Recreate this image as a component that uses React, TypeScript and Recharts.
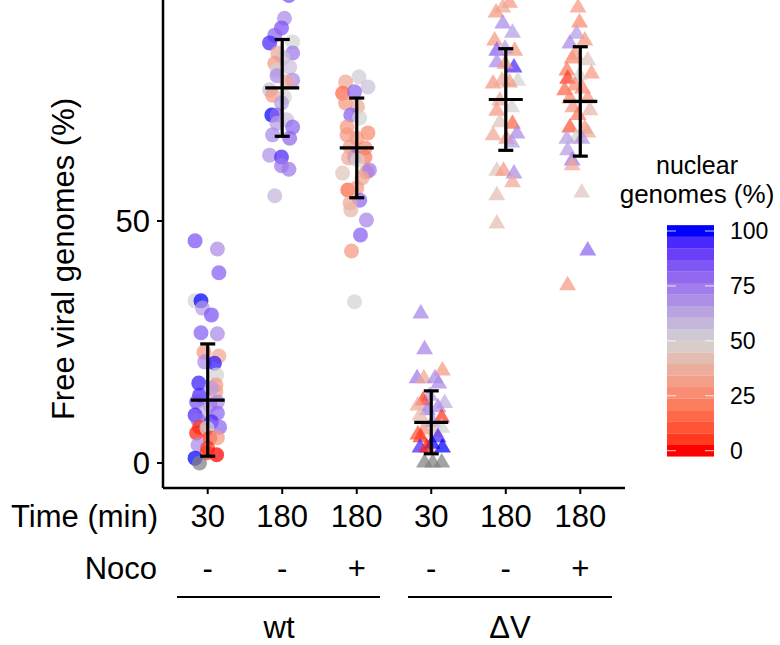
import React from "react";
import { ScatterChart, Scatter, XAxis, YAxis } from "recharts";

const TIME_LABELS = ["30", "180", "180", "30", "180", "180"];
const NOCO_LABELS = ["-", "-", "+", "-", "-", "+"];
const MEANS = [13.0, 77.5, 65.1, 8.4, 75.1, 74.7];
const SDS = [11.6, 10.0, 10.3, 6.5, 10.5, 11.3];
const LEGEND_TICKS = [0, 25, 50, 75, 100];

// [x jitter, free viral genomes %, nuclear genomes %]  (null = no value)
const WT_30 = [
  [-0.17, 45.9, 85], [0.13, 44.2, 70], [0.15, 39.3, 82], [-0.17, 33.5, 50], [-0.09, 33.5, 100],
  [-0.07, 32, 65], [0.05, 30.6, 85], [-0.09, 26.9, 82], [0.13, 26.7, 70], [-0.05, 22.9, 30],
  [0.15, 22.1, 35], [-0.04, 20.9, 70], [0.09, 20.6, 98], [0.12, 18.2, 50], [-0.12, 16.5, 97],
  [0.11, 16.1, 30], [0.11, 14.7, 32], [-0.11, 14, 95], [-0.15, 12.6, 85], [0.13, 12.6, 70],
  [0.03, 12, 75], [-0.04, 10.5, 60], [0.05, 15.5, 65],
  [0.13, 10.3, 80], [-0.17, 9.9, 95], [-0.13, 8.9, 80], [0.05, 8.5, 95], [0.16, 7.4, 80],
  [-0.11, 7.4, 5], [-0.15, 6.2, 2], [-0.01, 7.2, 50], [0.03, 5.2, 3], [0.13, 5.2, 30],
  [-0.13, 3.7, 70], [0, 3.1, 5], [0.12, 1.7, 0], [-0.01, 2.1, 5], [-0.17, 1, 100], [-0.11, 0, null],
];
const WT_180 = [
  [0.09, 96.6, 85], [0.03, 91.9, 70], [-0.01, 89.9, 85], [-0.1, 88.4, 80], [-0.17, 86.8, 95],
  [0.14, 87, 50], [-0.06, 84.7, 35], [0.14, 84.7, 75], [0.01, 83.7, 55], [-0.1, 82.6, 30],
  [0.1, 81.8, 55], [-0.07, 81.2, 50], [-0.07, 80, 70], [0.14, 79.1, 70], [0.06, 78.7, 35],
  [-0.17, 77.1, 55], [-0.13, 76, 30], [0.03, 75.6, 50], [-0.01, 74.4, 65], [-0.14, 71.9, 100],
  [-0.07, 71.9, 80], [0.06, 70.9, 55], [-0.07, 70.2, 65], [0.14, 69.4, 80], [-0.13, 67.8, 70],
  [0.1, 67.1, 80], [-0.17, 63.6, 68], [-0.01, 63.2, 95], [-0.01, 61.4, 75], [0.09, 60.7, 75],
  [-0.1, 55.2, 58],
];
const WT_180_NOCO = [
  [0.03, 79.8, 52], [-0.15, 78.7, 35], [0.15, 77.7, 55], [-0.19, 76.4, 15], [-0.03, 76.7, 80],
  [-0.15, 74.4, 30], [0.01, 73.6, 35], [-0.08, 71.9, 82], [0.04, 71.3, 50], [-0.13, 69.4, 30],
  [0.15, 68.2, 25], [-0.13, 67.8, 30], [0, 67.1, 30], [-0.09, 65.3, 30], [0.11, 65.1, 25],
  [-0.03, 63.2, 80], [-0.11, 63, 35], [0.11, 63.2, 20], [0.01, 62.6, 50], [-0.19, 59.9, 45],
  [0.13, 60.1, 30], [0.17, 60.5, 75], [0.07, 58.9, 35], [-0.12, 56.4, 15], [0, 56.8, 30],
  [0.04, 54.3, 80], [-0.09, 53.7, 35], [-0.08, 52.3, 40], [0.13, 50.2, 72], [0.05, 47.1, 82],
  [-0.07, 43.8, 30], [-0.03, 33.3, 50],
];
const DV_30 = [
  [-0.14, 31, 72], [-0.09, 23.6, 72], [0.15, 19.2, 30], [-0.19, 17.6, 75], [-0.1, 17.6, 35],
  [0.05, 17.6, 70], [0.1, 16.5, 70], [-0.02, 14, 65], [-0.11, 13, 5], [-0.18, 12, 35],
  [0.18, 12.5, 60], [0.09, 11.6, 70], [-0.05, 11, 75], [-0.15, 9.9, 40], [0.14, 9.5, 5],
  [0.02, 8.5, 68], [0.14, 7.4, 50], [-0.1, 7, 30], [0.06, 6.5, 45], [-0.18, 6, 10],
  [-0.14, 5.4, 5], [0.09, 5.4, 95], [0.01, 4.1, 100], [-0.15, 3.3, 95], [0.15, 3.3, 100],
  [-0.06, 3.3, 2], [-0.09, 0.2, null], [0.02, 0.2, null], [0.14, 0.2, null],
];
const DV_180 = [
  [0.15, 97, 30], [0.05, 95.2, 30], [-0.04, 94.2, 35], [-0.13, 93.2, 30], [-0.04, 90.9, 70],
  [0.09, 89, 65], [-0.15, 87.4, 30], [0.12, 85.3, 30], [-0.12, 85.3, 82], [-0.01, 85.7, 65],
  [-0.12, 82.9, 70], [0.11, 81.8, 95], [-0.01, 82.6, 30], [0.16, 79.1, 50], [-0.17, 78.5, 30],
  [-0.05, 79.1, 35], [0.05, 78.7, 30], [-0.08, 75, 35], [0.08, 73.6, 50], [-0.12, 72.9, 30],
  [0.09, 70.2, 15], [-0.08, 70.5, 45], [-0.17, 67.8, 35], [0.15, 68.2, 70], [0.01, 67.1, 30],
  [0.08, 66.3, 65], [-0.12, 60.5, 45], [-0.03, 60.5, 30], [0.11, 59.9, 70], [0.09, 58.1, 35],
  [-0.12, 55.4, 42], [-0.12, 49.6, 42],
];
const DV_180_NOCO = [
  [-0.03, 94.2, 30], [-0.01, 91.1, 25], [-0.05, 88.8, 65], [-0.14, 86.8, 70], [0.06, 87.4, 30],
  [0.1, 83.3, 45], [-0.11, 83.7, 25], [-0.07, 84.5, 30], [-0.18, 81.2, 20], [0.15, 80.6, 30],
  [-0.17, 79.5, 5], [-0.01, 80.2, 50], [-0.07, 78.1, 25], [0.03, 77.5, 25], [-0.21, 77.1, 15],
  [0.1, 75.4, 30], [-0.14, 75.4, 25], [-0.1, 73.6, 30], [0.13, 73, 40], [-0.03, 72, 20],
  [-0.14, 69.4, 10], [0.06, 69.2, 30], [0.1, 68.4, 35], [-0.05, 67.4, 50], [-0.18, 67.1, 65],
  [0.02, 67.1, 68], [-0.17, 64.7, 65], [-0.11, 62.6, 75], [-0.11, 61.6, 35], [0.02, 56, 45],
  [0.1, 44, 80], [-0.17, 36.8, 30],
];
const GROUPS = [WT_30, WT_180, WT_180_NOCO, DV_30, DV_180, DV_180_NOCO];

// gradient red -> lightgrey -> blue, interpolated in CIE Lab like ggplot
const WHITE_PT = [0.95047, 1, 1.08883];
const toLin = (c: number) => {
  c /= 255;
  return c <= 0.04045 ? c / 12.92 : Math.pow((c + 0.055) / 1.055, 2.4);
};
const fromLin = (c: number) => {
  const v = c <= 0.0031308 ? 12.92 * c : 1.055 * Math.pow(c, 1 / 2.4) - 0.055;
  return Math.round(Math.min(1, Math.max(0, v)) * 255);
};
function rgbToLab([r, g, b]: number[]) {
  const R = toLin(r), G = toLin(g), B = toLin(b);
  const f = (t: number) => (t > 0.008856 ? Math.cbrt(t) : 7.787 * t + 16 / 116);
  const fx = f((0.4124 * R + 0.3576 * G + 0.1805 * B) / WHITE_PT[0]);
  const fy = f((0.2126 * R + 0.7152 * G + 0.0722 * B) / WHITE_PT[1]);
  const fz = f((0.0193 * R + 0.1192 * G + 0.9505 * B) / WHITE_PT[2]);
  return [116 * fy - 16, 500 * (fx - fy), 200 * (fy - fz)];
}
function labToRgb([L, a, b]: number[]) {
  const fy = (L + 16) / 116, fx = fy + a / 500, fz = fy - b / 200;
  const inv = (t: number) => (t * t * t > 0.008856 ? t * t * t : (t - 16 / 116) / 7.787);
  const X = inv(fx) * WHITE_PT[0], Y = inv(fy) * WHITE_PT[1], Z = inv(fz) * WHITE_PT[2];
  const r = fromLin(3.2406 * X - 1.5372 * Y - 0.4986 * Z);
  const g = fromLin(-0.9689 * X + 1.8758 * Y + 0.0415 * Z);
  const bb = fromLin(0.0557 * X - 0.204 * Y + 1.057 * Z);
  return `rgb(${r},${g},${bb})`;
}
const LOW = rgbToLab([255, 0, 0]);
const MID = rgbToLab([211, 211, 211]);
const HIGH = rgbToLab([0, 0, 255]);
function nuclearColor(n: number | null) {
  if (n == null) return "#7f7f7f";
  const t = n / 100;
  const [p, q, s] = t < 0.5 ? [LOW, MID, t * 2] : [MID, HIGH, (t - 0.5) * 2];
  return labToRgb(p.map((v, i) => v + (q[i] - v) * s));
}

const toPoints = (groups: any[]) =>
  groups.flatMap(({ g, i }) => g.map(([dx, y, n]: any) => ({ x: i + 1 + dx, y, n })));
const circlePts = toPoints(GROUPS.slice(0, 3).map((g, i) => ({ g, i })));
const trianglePts = toPoints(GROUPS.slice(3).map((g, i) => ({ g, i: i + 3 })));
const meanPts = MEANS.map((m, i) => ({ x: i + 1, y: m }));
// mean - sd and mean + sd for each group, joined by a line
const sdRanges = MEANS.map((m, i) => [
  { x: i + 1, y: m - SDS[i] },
  { x: i + 1, y: m + SDS[i] },
]);

const FONT = "Liberation Sans, Arial, sans-serif";
const ALPHA = 0.72;
const BAR_W = 3.2;

const Circle = (p: any) => (
  <circle cx={p.cx} cy={p.cy} r={7.5} fill={nuclearColor(p.payload.n)} fillOpacity={ALPHA} />
);
const Triangle = (p: any) => (
  <polygon
    points={`${p.cx},${p.cy - 9} ${p.cx - 8.5},${p.cy + 5.5} ${p.cx + 8.5},${p.cy + 5.5}`}
    fill={nuclearColor(p.payload.n)}
    fillOpacity={ALPHA}
  />
);
const hLine = (half: number) => (p: any) => (
  <line x1={p.cx - half} x2={p.cx + half} y1={p.cy} y2={p.cy} stroke="#000" strokeWidth={BAR_W} />
);
const MeanBar = hLine(17);
const Cap = hLine(7.5);

// time label with the nocodazole row underneath
const TwoRowTick = ({ x, y, payload }: any) => {
  const i = Math.round(payload.value) - 1;
  return (
    <g fontFamily={FONT} fontSize={31} fill="#000" textAnchor="middle">
      <text x={x} y={y + 22}>{TIME_LABELS[i]}</text>
      <text x={x} y={y + 74}>{NOCO_LABELS[i]}</text>
    </g>
  );
};

const legendY = (v: number) => 450.7 - v * 2.197;
const BINS = Array.from({ length: 20 }, (_, i) => (i * 100) / 19);

export default function App() {
  const axisText = { fill: "#000", fontSize: 31, fontFamily: FONT };
  return (
    <div style={{ position: "absolute", left: 0, top: 0, width: 780, height: 645, background: "#fff" }}>
      <ScatterChart width={780} height={645} margin={{ top: 0, right: 155, bottom: 67, left: 0 }}>
        <XAxis
          type="number"
          dataKey="x"
          domain={[0.4, 6.6]}
          ticks={[1, 2, 3, 4, 5, 6]}
          height={90}
          tickSize={6}
          tickMargin={11}
          tick={<TwoRowTick />}
          axisLine={{ stroke: "#000", strokeWidth: 2.5 }}
          tickLine={{ stroke: "#000", strokeWidth: 2 }}
          allowDataOverflow
        />
        <YAxis
          type="number"
          dataKey="y"
          domain={[-5.17, 95.66]}
          ticks={[0, 50]}
          width={163}
          tickSize={6}
          tickMargin={7}
          tick={axisText}
          axisLine={{ stroke: "#000", strokeWidth: 2.5 }}
          tickLine={{ stroke: "#000", strokeWidth: 2 }}
          allowDataOverflow
        />
        <Scatter data={circlePts} shape={Circle} isAnimationActive={false} />
        <Scatter data={trianglePts} shape={Triangle} isAnimationActive={false} />
        {sdRanges.map((d, i) => (
          <Scatter
            key={i}
            data={d}
            shape={Cap}
            line={{ stroke: "#000", strokeWidth: BAR_W }}
            isAnimationActive={false}
          />
        ))}
        <Scatter data={meanPts} shape={MeanBar} isAnimationActive={false} />
      </ScatterChart>
      <svg
        width={780}
        height={645}
        style={{ position: "absolute", left: 0, top: 0, pointerEvents: "none" }}
        fontFamily={FONT}
      >
        <text transform="translate(74,259) rotate(-90)" textAnchor="middle" fontSize={31}>
          Free viral genomes (%)
        </text>
        <text x={158} y={527} textAnchor="end" fontSize={31}>Time (min)</text>
        <text x={157} y={579} textAnchor="end" fontSize={31}>Noco</text>
        <line x1={177} x2={380} y1={597} y2={597} stroke="#000" strokeWidth={2} />
        <line x1={408} x2={612} y1={597} y2={597} stroke="#000" strokeWidth={2} />
        <text x={279} y={638} textAnchor="middle" fontSize={31}>wt</text>
        <text x={510} y={638} textAnchor="middle" fontSize={31}>ΔV</text>
        <text x={697} y={174} textAnchor="middle" fontSize={25}>nuclear</text>
        <text x={697} y={203} textAnchor="middle" fontSize={26}>genomes (%)</text>
        {BINS.map((v) => (
          <rect key={v} x={667} width={47} y={legendY(v) - 5.85} height={11.7} fill={nuclearColor(v)} />
        ))}
        {LEGEND_TICKS.map((v) => (
          <g key={v}>
            <line x1={667} x2={676} y1={legendY(v)} y2={legendY(v)} stroke="#fff" strokeOpacity={0.8} />
            <line x1={705} x2={714} y1={legendY(v)} y2={legendY(v)} stroke="#fff" strokeOpacity={0.8} />
            <text x={730} y={legendY(v) + 8} fontSize={23}>{v}</text>
          </g>
        ))}
      </svg>
    </div>
  );
}
